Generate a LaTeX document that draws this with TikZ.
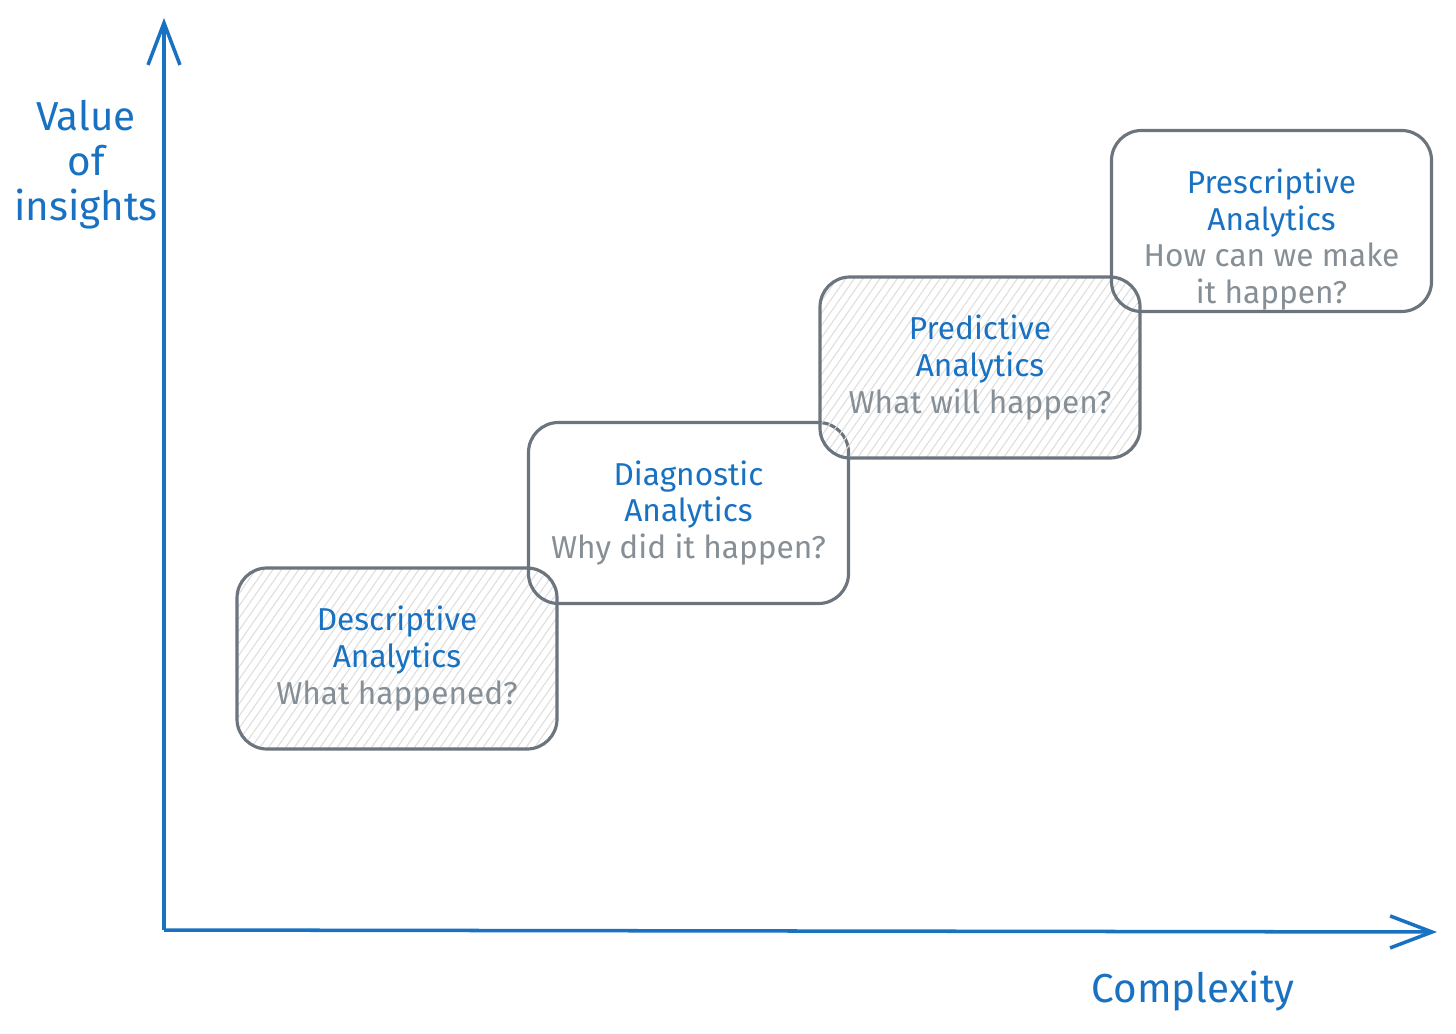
\documentclass[tikz,border=0pt]{standalone}
\usepackage{fontspec}
\setmainfont{Fira Sans}
\usepackage{tikz}
\usetikzlibrary{arrows.meta}
\usetikzlibrary{patterns.meta}
\definecolor{axisblue}{HTML}{1971C2}
\definecolor{boxgray}{HTML}{6C757D}
\definecolor{subgray}{HTML}{868E96}
\definecolor{hatchgray}{HTML}{DDDDDD}
\newcommand{\stagetitle}[1]{{\color{axisblue}#1}}
\tikzset{
    stage/.style = {align=center, inner sep=0pt, text centered, rectangle, rounded corners=0.3cm,
                    draw=boxgray, line width=0.9pt, text=subgray, minimum width=3.2cm, minimum height=1.81cm,
                    font=\fontsize{9}{10.4}\selectfont},
    hatched_stage/.style = {stage, pattern={Lines[angle=55, distance=2pt, line width=0.3pt]}, pattern color=hatchgray},
    plain_stage/.style = {stage},
    axis/.style = {draw=axisblue, line width=1pt, -{Straight Barb[length=4.2mm, width=3.2mm, line width=1pt]}},
    axislabel/.style = {align=center, inner sep=0pt, text=axisblue, font=\fontsize{11.5}{12.8}\selectfont}
}

\begin{document}
\begin{tikzpicture}
    \useasboundingbox (0,0) rectangle (14.56,10.33);

    % axes
    \coordinate (origin) at (1.64,1.03);
    \coordinate (ytop) at (1.64,10.15);
    \coordinate (xend) at (14.37,1.01);
    \draw [axis] (origin) -- (ytop);
    \draw [axis] (origin) -- (xend);

    \node [axislabel] (valuelabel) at (0.86,8.68) {Value\\of\\insights};
    \node [axislabel] (complexitylabel) at (11.93,0.42) {Complexity};

    % stages
    \node [hatched_stage] (descriptive) at (3.97,3.745)
        {\stagetitle{Descriptive}\\\stagetitle{Analytics}\\What happened?};
    \node [plain_stage] (diagnostic) at (6.885,5.20)
        {\stagetitle{Diagnostic}\\\stagetitle{Analytics}\\Why did it happen?};
    \node [hatched_stage] (predictive) at (9.80,6.655)
        {\stagetitle{Predictive}\\\stagetitle{Analytics}\\What will happen?};
    \node [plain_stage] (prescriptive) at (12.715,8.12)
        {\rule{0pt}{0.62cm}\stagetitle{Prescriptive}\\\stagetitle{Analytics}\\How can we make\\it happen?};
\end{tikzpicture}
\end{document}
